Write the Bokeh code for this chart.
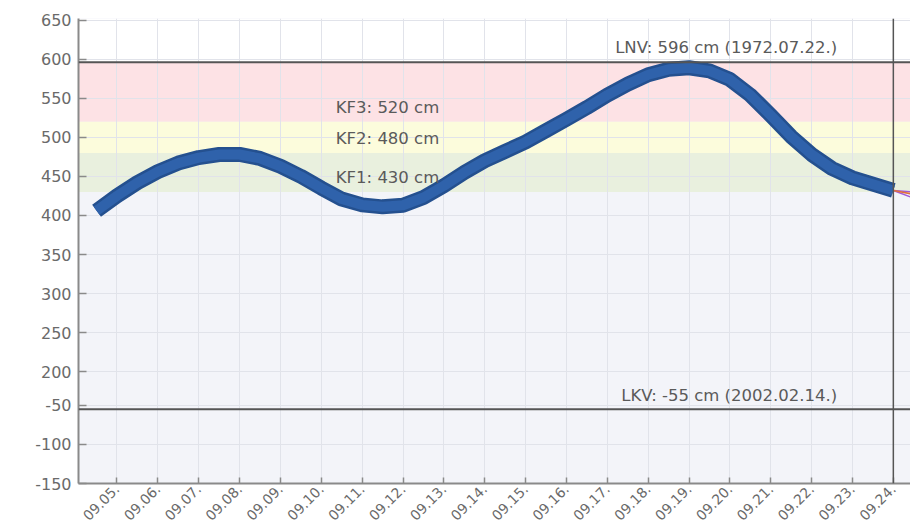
import math
import pandas as pd
from bokeh.plotting import figure
from bokeh.models import (BoxAnnotation, Span, Label, FixedTicker, DaysTicker,
                          DatetimeTickFormatter, Range1d)
from bokeh.embed import file_html
from bokeh.resources import INLINE

# ---- data -------------------------------------------------------------
obs_start = "2023-09-04 12:00"           # first observation, then every 12 h
level_cm = [406, 425, 442, 456, 467, 474, 478, 478, 473, 463,
            450, 435, 421, 413.5, 411, 413, 423, 438, 455, 470,
            482, 494, 508.5, 523, 538, 554, 568, 580, 587, 589,
            585, 574, 554, 528, 501, 478, 460, 448, 440, 432]

forecast_times = ["2023-09-24 00:00", "2023-09-25 00:00"]
forecast_hi = [432, 428]
forecast_mid = [432, 422]
forecast_lo = [432, 412]

LNV = 596          # highest known level (1972.07.22.)
LKV = -55          # lowest known level (2002.02.14.)
KF3, KF2, KF1 = 520, 480, 430
now_time = "2023-09-24 00:00"

y_tick_values = [650, 600, 550, 500, 450, 400, 350, 300, 250, 200, -50, -100, -150]
y_break_shift = 207   # axis is broken between 200 and -50


def to_axis(v):
    return v if v >= 200 else v + y_break_shift


times = pd.date_range(obs_start, periods=len(level_cm), freq="12h")
f_times = pd.to_datetime(forecast_times)

x0 = pd.Timestamp("2023-09-05") - pd.Timedelta(hours=0.942 * 24)
x1 = pd.Timestamp("2023-09-05") + pd.Timedelta(hours=19.42 * 24)

p = figure(width=910, height=531, x_axis_type="datetime",
           output_backend="svg", toolbar_location=None,
           x_range=Range1d(x0, x1), y_range=Range1d(to_axis(-150), 652),
           min_border_left=78, min_border_right=0, min_border_top=18,
           min_border_bottom=48)
p.outline_line_color = None
p.background_fill_color = "#f3f4f9"
p.border_fill_color = "white"

# bands
for bottom, top, col in [(LNV, 652, "#ffffff"), (KF3, LNV, "#fde2e5"),
                         (KF2, KF3, "#fcfcdc"), (KF1, KF2, "#e9f0de")]:
    p.add_layout(BoxAnnotation(bottom=bottom, top=top, fill_color=col,
                               fill_alpha=1, line_color=None, level="image"))

# axes / grid
yt = [to_axis(v) for v in y_tick_values]
p.yaxis.ticker = FixedTicker(ticks=yt)
p.yaxis.major_label_overrides = {to_axis(v): str(v) for v in y_tick_values}
p.xaxis.ticker = DaysTicker(days=list(range(1, 32)))
fmt = "%m.%d."
p.xaxis.formatter = DatetimeTickFormatter(days=fmt, months=fmt, hours=fmt,
                                          hourmin=fmt, minutes=fmt, years=fmt)
p.xaxis.major_label_orientation = math.pi / 4

for ax in (p.xaxis, p.yaxis):
    ax.axis_line_color = "#8a8a8a"
    ax.axis_line_width = 2
    ax.major_tick_line_color = "#8a8a8a"
    ax.major_tick_line_width = 1.5
    ax.major_tick_out = 0
    ax.minor_tick_line_color = None
    ax.major_label_text_color = "#6a6a6a"
    ax.major_label_text_font = "DejaVu Sans"
p.yaxis.major_tick_in = 8
p.xaxis.major_tick_in = 6
p.yaxis.major_label_text_font_size = "16px"
p.yaxis.major_label_standoff = 7
p.xaxis.major_label_text_font_size = "14px"
p.xaxis.major_label_standoff = 3

p.xgrid.grid_line_color = "#e1e3ea"
p.ygrid.grid_line_color = "#e1e3ea"

# reference lines
p.add_layout(Span(location=LNV, dimension="width", line_color="#555555", line_width=2))
p.add_layout(Span(location=to_axis(LKV), dimension="width", line_color="#555555", line_width=2))
p.add_layout(Span(location=pd.Timestamp(now_time), dimension="height",
                  line_color="#555555", line_width=1.5))

# observed level
p.line(times, level_cm, line_width=15, color="#24508f", line_join="round")
p.line(times, level_cm, line_width=10, color="#2f62ab", line_join="round")

# forecast
p.line(f_times, forecast_hi, line_width=1.5, color="#a05ad8")
p.line(f_times, forecast_lo, line_width=1.5, color="#a05ad8")
p.line(f_times, forecast_mid, line_width=1.5, color="#e0703c")

# labels
lab_x = pd.Timestamp("2023-09-22 15:00")
kf_x = pd.Timestamp("2023-09-10 08:30")
common = dict(text_font="DejaVu Sans", text_font_size="16.5px", text_color="#5a5a5a")
p.add_layout(Label(x=lab_x, y=LNV, text="LNV: 596 cm (1972.07.22.)",
                   text_align="right", text_baseline="middle", y_offset=15, **common))
p.add_layout(Label(x=lab_x, y=to_axis(LKV), text="LKV: -55 cm (2002.02.14.)",
                   text_align="right", text_baseline="middle", y_offset=14, **common))
for v, t in [(KF3, "KF3: 520 cm"), (KF2, "KF2: 480 cm"), (KF1, "KF1: 430 cm")]:
    p.add_layout(Label(x=kf_x, y=v, text=t, text_align="left",
                       text_baseline="middle", y_offset=14, **common))

open("out.html", "w").write(file_html(p, INLINE))
